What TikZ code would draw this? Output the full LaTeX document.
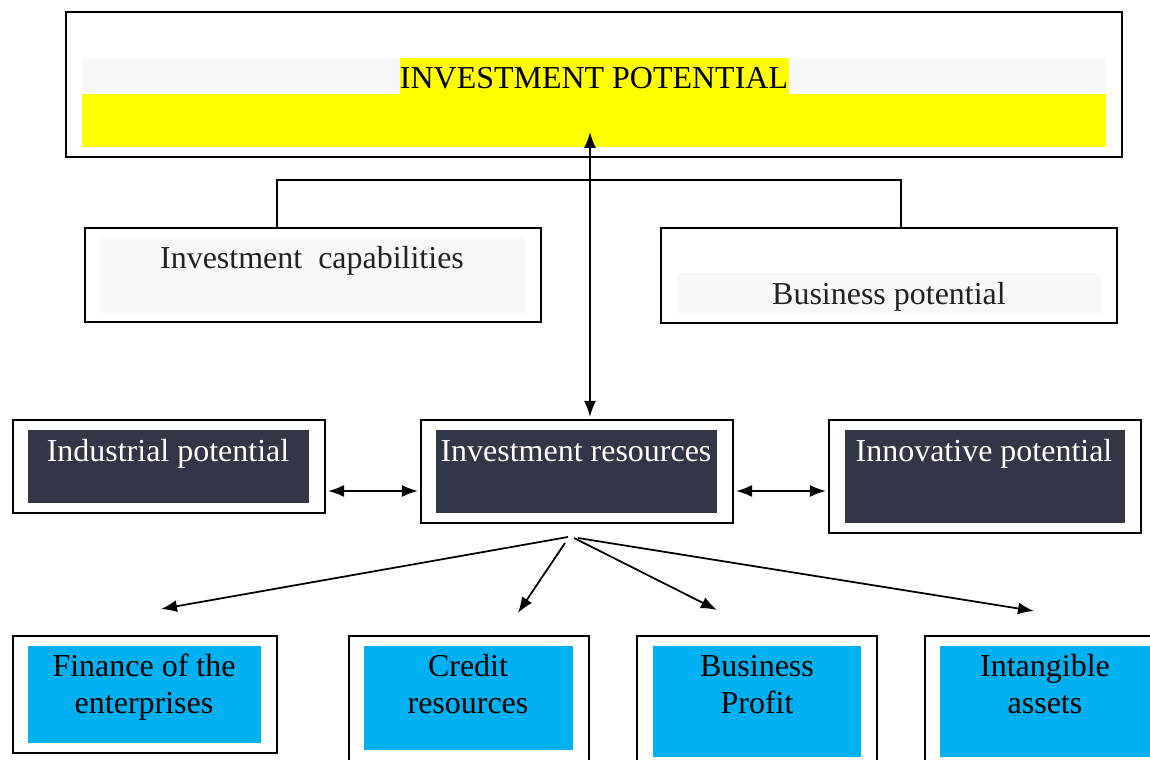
\documentclass[tikz,border=0pt]{standalone}
\usepackage{fontspec}
\setmainfont{Liberation Serif}
\usetikzlibrary{arrows.meta,fit}
\definecolor{darkbox}{RGB}{51,54,70}
\definecolor{cyanbox}{RGB}{0,176,240}
\definecolor{lightstrip}{RGB}{247,248,250}
\definecolor{hiyellow}{RGB}{255,255,0}
\definecolor{txtgray}{RGB}{34,34,34}
\tikzset{
  frame/.style={draw=black, line width=1.2pt, inner sep=0pt},
  fillbox/.style={inner sep=0pt, draw=none},
  lbl/.style={font=\fontsize{18.2}{20.5}\selectfont, inner sep=0pt, align=center, anchor=base},
  link/.style={line width=1pt},
  tip/.tip={Latex[length=0.32cm,width=0.24cm]},
  arr/.style={line width=1pt, -tip},
  darr/.style={line width=1pt, tip-tip},
}
\begin{document}
\begin{tikzpicture}[x=0.02cm,y=-0.02cm]
\useasboundingbox (0,0) rectangle (1150,760);
\begin{scope}
\clip (0,0) rectangle (1150,760);

% top box
\node[frame, line width=1.5pt, fit={(66,12) (1122,157)}] (top) {};
\node[fillbox, fill=lightstrip, fit={(82,58) (1106,94)}] (topstrip) {};
\node[fillbox, fill=hiyellow, fit={(82,94) (1106,147)}] (topyellow) {};
\node[fillbox, fill=hiyellow, fit={(400,58) (789,94)}] (tophl) {};
\node[lbl] (toptxt) at (594,89) {INVESTMENT POTENTIAL};

% second row
\node[frame, fit={(85,228) (541,322)}] (cap) {};
\node[fillbox, fill=lightstrip, fit={(100,238) (525,313)}] (capfill) {};
\node[lbl, text=txtgray] (captxt) at (312,269) {Investment\ \ capabilities};

\node[frame, fit={(661,228) (1117,323)}] (bus) {};
\node[fillbox, fill=lightstrip, fit={(677,273) (1101,313)}] (busfill) {};
\node[lbl, text=txtgray] (bustxt) at (889,305) {Business potential};

% third row
\node[frame, fit={(13,420) (325,513)}] (ind) {};
\node[fillbox, fill=darkbox, fit={(28,430) (309,503)}] (indfill) {};
\node[lbl, text=white] (indtxt) at (168,461) {Industrial potential};

\node[frame, fit={(421,420) (733,523)}] (res) {};
\node[fillbox, fill=darkbox, fit={(436,430) (717,513)}] (resfill) {};
\node[lbl, text=white] (restxt) at (576,461) {Investment resources};

\node[frame, fit={(829,420) (1141,533)}] (inn) {};
\node[fillbox, fill=darkbox, fit={(845,430) (1125,523)}] (innfill) {};
\node[lbl, text=white] (inntxt) at (984,461) {Innovative potential};

% bottom row
\node[frame, fit={(13,636) (277,753)}] (fin) {};
\node[fillbox, fill=cyanbox, fit={(28,646) (261,743)}] (finfill) {};
\node[lbl] (fintxt) at (144,713) {Finance of the\\enterprises};

\node[frame, fit={(349,636) (589,765)}] (cre) {};
\node[fillbox, fill=cyanbox, fit={(364,646) (573,750)}] (crefill) {};
\node[lbl] (cretxt) at (468,713) {Credit\\resources};

\node[frame, fit={(637,636) (877,765)}] (pro) {};
\node[fillbox, fill=cyanbox, fit={(653,646) (861,757)}] (profill) {};
\node[lbl] (protxt) at (757,713) {Business\\Profit};

\node[frame, fit={(925,636) (1165,765)}] (ass) {};
\node[fillbox, fill=cyanbox, fit={(940,646) (1160,757)}] (assfill) {};
\node[lbl] (asstxt) at (1045,713) {Intangible\\assets};

% connectors
\coordinate (bl) at (277,180);
\coordinate (br) at (901,180);
\draw[link] (cap.north -| bl) -- (bl) -- (br) -- (bus.north -| br);

\coordinate (vtop) at (590,132);
\draw[darr] (vtop) -- ([yshift=0.04cm]vtop |- res.north);

\coordinate (hy) at (0,491);
\draw[darr] ([xshift=0.04cm]ind.east |- hy) -- ([xshift=-0.04cm]res.west |- hy);
\draw[darr] ([xshift=0.04cm]res.east |- hy) -- ([xshift=-0.04cm]inn.west |- hy);

\coordinate (s1) at (568,537);
\coordinate (s2) at (565,543);
\coordinate (s3) at (574,538);
\coordinate (s4) at (578,538);
\coordinate (e1) at (161,609);
\coordinate (e2) at (518,613);
\coordinate (e3) at (717,610);
\coordinate (e4) at (1034,611);
\draw[arr] (s1) -- (e1);
\draw[arr] (s2) -- (e2);
\draw[arr] (s3) -- (e3);
\draw[arr] (s4) -- (e4);
\end{scope}
\end{tikzpicture}
\end{document}
